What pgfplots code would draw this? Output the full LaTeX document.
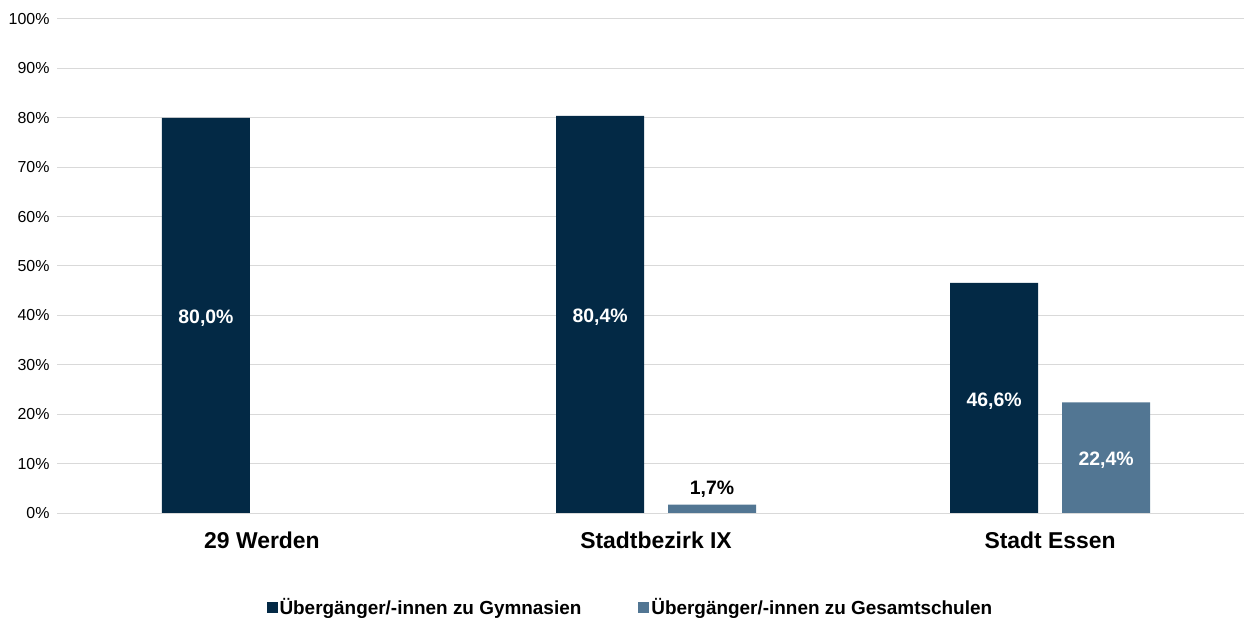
\documentclass[border=0pt]{standalone}
\usepackage{pgfplots}
\pgfplotsset{compat=1.18}
\usepackage{fontspec}
\setmainfont{Liberation Sans}
\definecolor{dark}{RGB}{3,41,69}
\definecolor{light}{RGB}{82,118,147}
\definecolor{gridc}{RGB}{217,217,217}
\begin{document}
\begin{tikzpicture}
\path[use as bounding box] (0,0) rectangle (1244bp,619bp);
\begin{axis}[
  at={(57bp,106bp)}, anchor=south west,
  scale only axis, width=1187bp, height=494bp,
  ybar=24bp, bar width=88bp,
  xmin=-0.520, xmax=2.492,
  ymin=0, ymax=100,
  xtick={0,1,2},
  xticklabels={29 Werden, Stadtbezirk IX, Stadt Essen},
  ytick={0,10,...,100},
  yticklabel={\pgfmathprintnumber{\tick}\%},
  /pgf/number format/assume math mode=true,
  yticklabel style={font=\fontsize{16}{18}\selectfont, xshift=-4bp},
  xticklabel style={font=\bfseries\fontsize{23}{26}\selectfont, yshift=-15bp},
  major tick length=0pt,
  ymajorgrids, grid style={gridc, line width=1bp},
  axis x line*=bottom, axis y line*=left,
  y axis line style={draw=none},
  x axis line style={gridc, line width=1bp},
  legend style={at={(0.483,-0.19)}, anchor=center, draw=none,
    font=\bfseries\fontsize{19}{22}\selectfont, legend columns=2,
    /tikz/every even column/.append style={column sep=55bp}},
  legend image code/.code={\fill[#1] (0bp,-6bp) rectangle (11bp,5bp);},
]
\addplot[fill=dark, draw=none] coordinates {(0,80.0) (1,80.4) (2,46.6)};
\addplot[fill=light, draw=none] coordinates {(0,0) (1,1.7) (2,22.4)};
\legend{Übergänger/-innen zu Gymnasien, Übergänger/-innen zu Gesamtschulen}
\node[text=white, font=\bfseries\fontsize{19.5}{22}\selectfont] at (axis cs:-0.142,39.4) {80,0\%};
\node[text=white, font=\bfseries\fontsize{19.5}{22}\selectfont] at (axis cs:0.858,39.6) {80,4\%};
\node[text=white, font=\bfseries\fontsize{19.5}{22}\selectfont] at (axis cs:1.858,22.7) {46,6\%};
\node[text=white, font=\bfseries\fontsize{19.5}{22}\selectfont] at (axis cs:2.142,10.6) {22,4\%};
\node[text=black, font=\bfseries\fontsize{19.5}{22}\selectfont, anchor=south, inner sep=7bp] at (axis cs:1.142,1.7) {1,7\%};
\end{axis}
\end{tikzpicture}
\end{document}
